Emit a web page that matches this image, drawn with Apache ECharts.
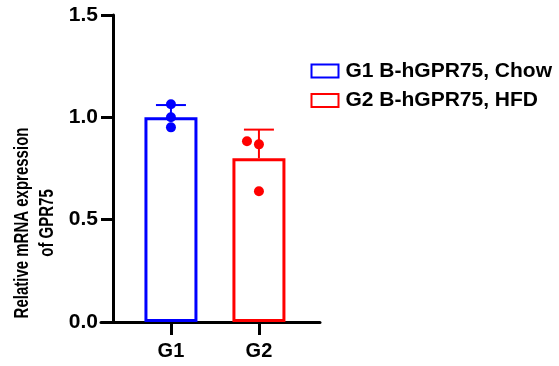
<!DOCTYPE html>
<html><head><meta charset="utf-8">
<script src="https://cdn.jsdelivr.net/npm/echarts@6/dist/echarts.min.js"></script>
<style>html,body{margin:0;padding:0;background:#fff}#c{width:559px;height:366px}</style>
</head><body><div id="c"></div>
<script>
const categories = ['G1', 'G2'];
const seriesNames = ['G1 B-hGPR75, Chow', 'G2 B-hGPR75, HFD'];
const colors = ['#0000FF', '#FF0000'];
const means = [1.00, 0.80];
const sdUpper = [1.06, 0.94];
const g1Points = [[1, 1.064], [1, 1.0], [1, 0.951]];
const g2Points = [[1.864, 0.883], [2, 0.868], [2, 0.639]];
const yTitle = 'Relative mRNA expression\nof GPR75';

const FONT = 'Liberation Sans, Arial, sans-serif';
const chart = echarts.init(document.getElementById('c'));

function errSeries(i) {
  return {
    type: 'custom',
    z: 3,
    data: [[i + 1, means[i], sdUpper[i]]],
    renderItem: function (params, api) {
      const x = api.value(0);
      const p0 = api.coord([x, api.value(1)]);
      const p1 = api.coord([x, api.value(2)]);
      const style = { stroke: colors[i], lineWidth: 2 };
      return {
        type: 'group',
        children: [
          { type: 'line', shape: { x1: p0[0], y1: p0[1], x2: p1[0], y2: p1[1] }, style: style },
          { type: 'line', shape: { x1: p1[0] - 15, y1: p1[1], x2: p1[0] + 15, y2: p1[1] }, style: style }
        ]
      };
    }
  };
}

chart.setOption({
  animation: false,
  grid: { left: 101, right: 239, top: 15, bottom: 44 },
  legend: {
    orient: 'vertical', left: 310.5, top: 60.5, padding: 0, itemWidth: 27, itemHeight: 13, itemGap: 8.5,
    icon: 'rect',
    data: seriesNames,
    textStyle: { fontFamily: FONT, fontWeight: 'bold', fontSize: 21, lineHeight: 21, color: '#000', padding: [0, 0, 0, 2] }
  },
  graphic: [{
    type: 'text', x: 35, y: 223, rotation: Math.PI / 2, scaleY: 1.3,
    style: { text: yTitle, align: 'center', verticalAlign: 'middle', fontFamily: FONT,
      fontWeight: 'bold', fontSize: 15, lineHeight: 19.5, fill: '#000' }
  }],
  xAxis: {
    type: 'value', min: 0.205, max: 2.694,
    splitLine: { show: false },
    axisLine: { lineStyle: { color: '#000', width: 3 } },
    axisTick: { customValues: [1, 2], length: 13, lineStyle: { color: '#000', width: 3 } },
    axisLabel: { customValues: [1, 2], margin: 19, formatter: v => categories[Math.round(v) - 1],
      fontFamily: FONT, fontWeight: 'bold', fontSize: 20, color: '#000' }
  },
  yAxis: {
    type: 'value', min: 0, max: 1.5, interval: 0.5, offset: -12,
    splitLine: { show: false },
    axisLine: { show: true, lineStyle: { color: '#000', width: 3 } },
    axisTick: { show: true, length: 12, lineStyle: { color: '#000', width: 3 } },
    axisLabel: { margin: 15, formatter: v => v.toFixed(1), fontFamily: FONT, fontWeight: 'bold', fontSize: 21, color: '#000' }
  },
  series: [
    { name: seriesNames[0], type: 'bar', barWidth: 53, barGap: '-100%', z: 2,
      itemStyle: { color: '#fff', borderColor: colors[0], borderWidth: 3 },
      data: [[1, means[0]]] },
    { name: seriesNames[1], type: 'bar', barWidth: 53, barGap: '-100%', z: 2,
      itemStyle: { color: '#fff', borderColor: colors[1], borderWidth: 3 },
      data: [[2, means[1]]] },
    errSeries(0), errSeries(1),
    { type: 'scatter', symbolSize: 10, z: 4, itemStyle: { color: colors[0], opacity: 1 }, data: g1Points },
    { type: 'scatter', symbolSize: 10, z: 4, itemStyle: { color: colors[1], opacity: 1 }, data: g2Points }
  ]
});
</script></body></html>
